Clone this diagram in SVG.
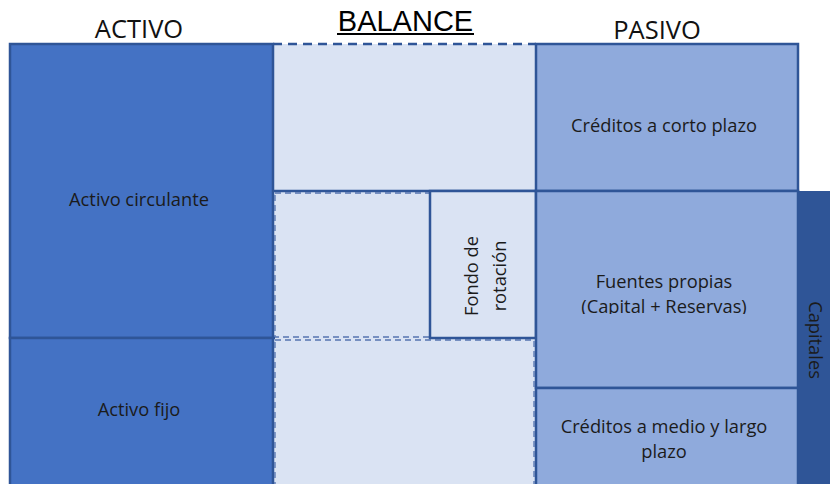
<svg xmlns="http://www.w3.org/2000/svg" width="830" height="484" viewBox="0 0 830 484">
  <defs>
    <style>
      .lbl { font-family: "Open Sans", "Liberation Sans", sans-serif; font-size: 18.3px; fill: #1b1b1b; text-anchor: middle; }
      .title { font-family: "Open Sans", "Liberation Sans", sans-serif; font-size: 25.5px; fill: #111; text-anchor: middle; }
      .bal { font-family: "Liberation Sans", Arial, sans-serif; font-size: 29px; fill: #000; text-anchor: middle; }
      .box { stroke: #2F5597; stroke-width: 2.5; }
      .act { fill: #4472C4; }
      .pas { fill: #8FAADC; }
      .mid { fill: #DAE3F3; }
      .dash { stroke: #2F5597; stroke-width: 2.5; stroke-dasharray: 9 6; fill: none; }
      .thin { stroke: #5574b0; stroke-width: 1.3; stroke-dasharray: 6 4; fill: none; }
      .solid { stroke: #2F5597; stroke-width: 2.5; fill: none; }
    </style>
    <clipPath id="fpclip"><rect x="536" y="191" width="263" height="123"/></clipPath>
  </defs>

  <g id="titles">
    <text class="title" x="139" y="38">ACTIVO</text>
    <text class="title" x="657" y="39">PASIVO</text>
    <text class="bal" x="405.5" y="31">BALANCE</text>
    <line x1="337" y1="34" x2="474" y2="34" stroke="#000" stroke-width="2"/>
  </g>

  <g id="middle">
    <rect class="mid" x="273" y="44" width="263" height="440"/>
    <line class="dash" x1="273" y1="44" x2="536" y2="44"/>
    <line class="solid" x1="273" y1="191" x2="536" y2="191"/>
    <rect class="thin" x="275" y="193" width="155" height="144"/>
    <rect class="thin" x="275" y="340" width="259" height="150"/>
    <line class="solid" x1="273" y1="338" x2="275" y2="338"/>
  </g>

  <g id="fondo">
    <rect class="mid box" x="430" y="191" width="106" height="147"/>
    <text class="lbl" transform="translate(478,276) rotate(-90)">Fondo de</text>
    <text class="lbl" transform="translate(506,276) rotate(-90)">rotación</text>
  </g>

  <g id="activo-circulante">
    <rect class="act box" x="10" y="44" width="263" height="294"/>
    <text class="lbl" x="139" y="206">Activo circulante</text>
  </g>

  <g id="activo-fijo">
    <rect class="act box" x="10" y="338" width="263" height="150"/>
    <text class="lbl" x="139" y="416">Activo fijo</text>
  </g>

  <g id="creditos-corto">
    <rect class="pas box" x="536" y="44" width="262" height="147"/>
    <text class="lbl" x="664" y="132">Créditos a corto plazo</text>
  </g>

  <g id="fuentes-propias">
    <rect class="pas box" x="536" y="191" width="262" height="197"/>
    <g clip-path="url(#fpclip)">
      <text class="lbl" x="664" y="288">Fuentes propias</text>
      <text class="lbl" x="664" y="313">(Capital + Reservas)</text>
    </g>
  </g>

  <g id="creditos-medio">
    <rect class="pas box" x="536" y="388" width="262" height="100"/>
    <text class="lbl" x="664" y="433">Créditos a medio y largo</text>
    <text class="lbl" x="664" y="458">plazo</text>
  </g>

  <g id="capitales">
    <rect x="799" y="191" width="32" height="295" fill="#2F5597"/>
    <text class="lbl" transform="translate(809,340) rotate(90)">Capitales</text>
  </g>

  <g id="connectors"></g>
</svg>
